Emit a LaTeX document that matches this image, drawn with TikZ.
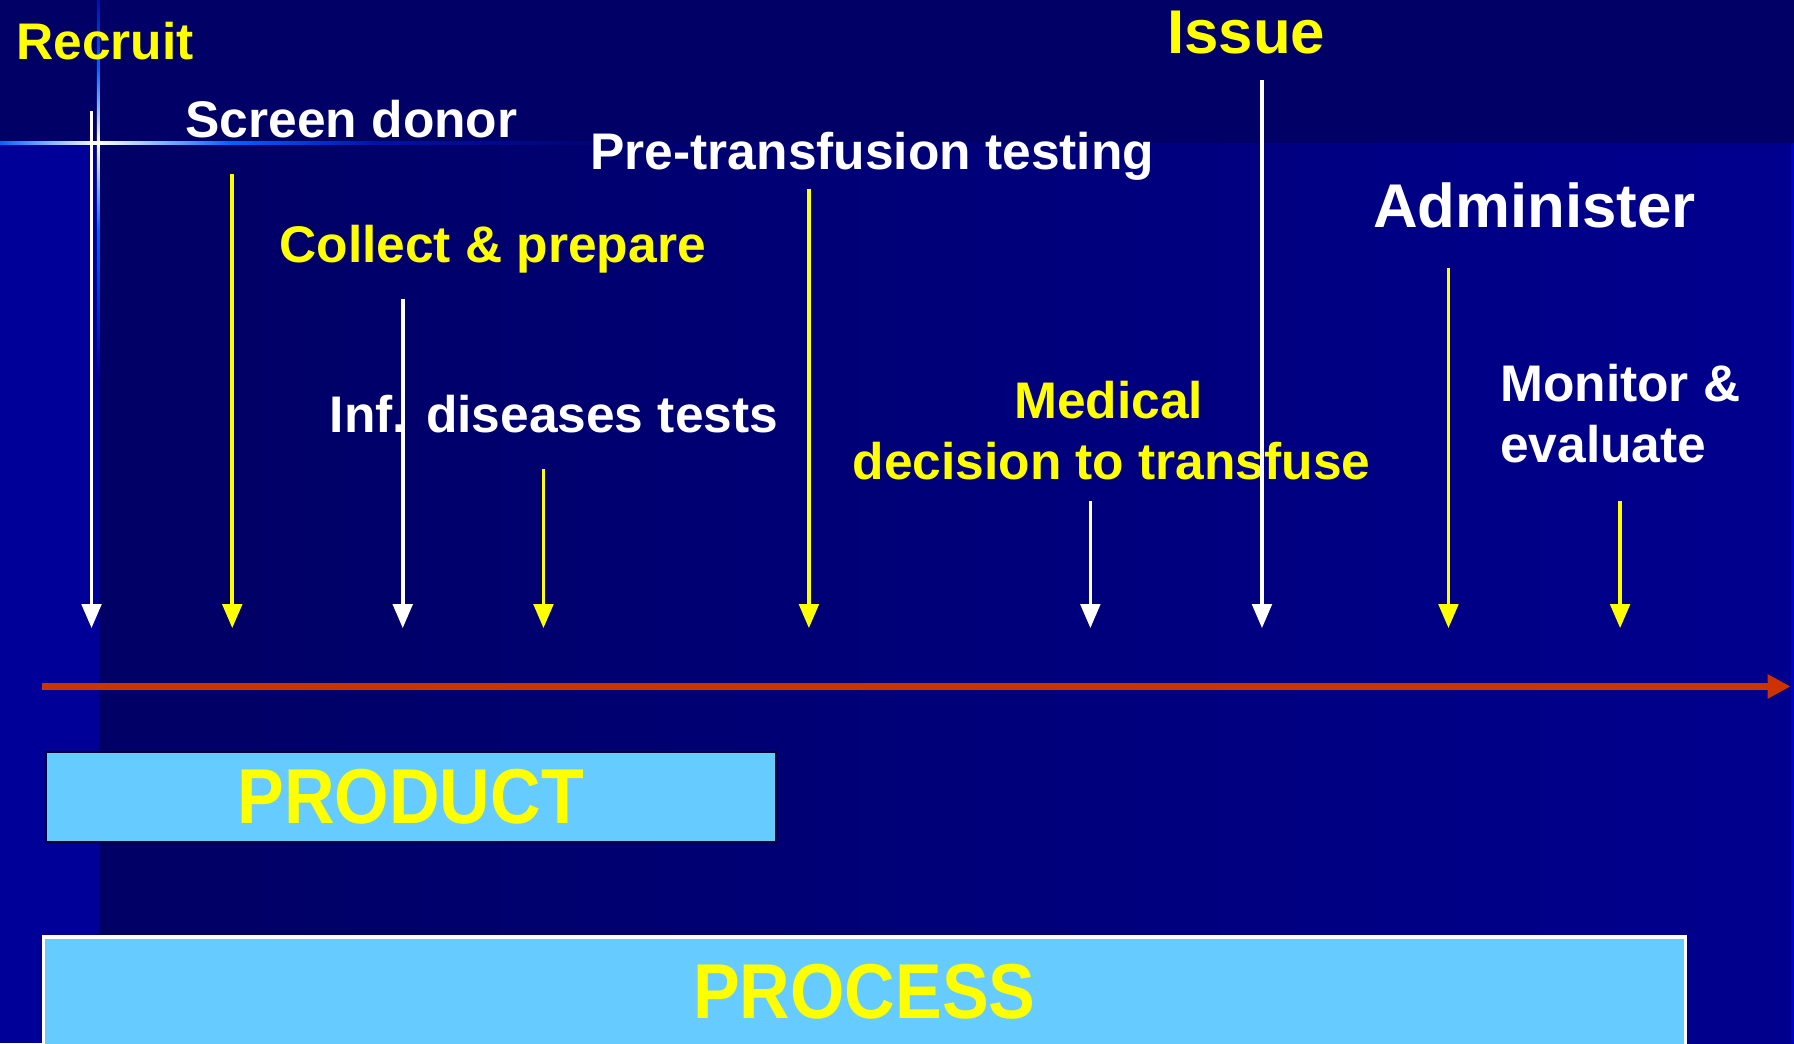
\documentclass[tikz,border=0pt]{standalone}
\usepackage{fontspec}
\usepackage{graphicx}
\setmainfont{Liberation Sans}
\usetikzlibrary{arrows.meta}
\definecolor{navy}{HTML}{000066}
\definecolor{midblue}{HTML}{000099}
\definecolor{edgeblue}{HTML}{0000CC}
\definecolor{lab}{HTML}{66CCFF}
\definecolor{tlred}{HTML}{CC3300}
\definecolor{ylw}{HTML}{FFFF00}
\definecolor{flare}{HTML}{0066FF}
\definecolor{flaredim}{HTML}{0010AA}
\definecolor{boxedge}{HTML}{000033}
\pgfdeclarehorizontalshading{bgshade}{100bp}{color(0bp)=(navy); color(28bp)=(navy); color(88bp)=(midblue); color(100bp)=(midblue)}
\begin{document}
\begin{tikzpicture}[x=1pt,y=-1pt,
  lbl/.style={font=\fontsize{45}{45}\selectfont\bfseries, inner sep=0pt, anchor=base west},
  biglbl/.style={lbl, font=\fontsize{54}{54}\selectfont\bfseries},
  wlbl/.style={lbl, text=white},
  ylbl/.style={lbl, text=ylw},
  tick/.style={line width=3.2pt, -{Triangle[width=17pt,length=21pt]}},
  wtick/.style={tick, draw=white},
  ytick/.style={tick, draw=ylw},
  bartext/.style={font=\fontsize{68}{68}\selectfont\bfseries, text=ylw, inner xsep=0pt, inner ysep=0pt, anchor=base, fill=lab}
]
\useasboundingbox (0,0) rectangle (1568,912);
% background
\fill[midblue] (0,0) rectangle (1568,912);
\shade[shading=bgshade] (87,125) rectangle (1568,912);
\fill[navy] (0,0) rectangle (1568,125);
\fill[edgeblue] (1565,125) rectangle (1568,912);
% flare
\shade[left color=flare, right color=white] (0,123.8) rectangle (86,126.2);
\shade[left color=white, right color=flare] (86,123.8) rectangle (200,126.2);
\shade[left color=flare, right color=flaredim] (200,123.8) rectangle (330,126.2);
\shade[left color=flaredim, right color=navy] (330,123.8) rectangle (560,126.2);
\shade[top color=flaredim, bottom color=flare] (84.6,0) rectangle (87.4,60);
\shade[top color=flare, bottom color=white] (84.6,60) rectangle (87.4,125);
\shade[top color=white, bottom color=flare] (84.6,125) rectangle (87.4,200);
\shade[top color=flare, bottom color=midblue] (84.6,200) rectangle (87.4,330);

% labels
\node[ylbl] (recruit) at (14,52) {Recruit};
\node[wlbl] (screen) at (162,120) {Screen donor};
\node[ylbl] (collect) at (244,229) {Collect \& prepare};
\node[wlbl] (pretest) at (516,148) {Pre-transfusion testing};
\node[biglbl, text=ylw] (issue) at (1020,47) {Issue};
\node[biglbl, text=white] (admin) at (1200,199) {Administer};
\node[wlbl] (infd) at (288,378) {Inf. diseases tests};
\node[ylbl, anchor=base] (medical) at (969,366) {Medical};
\node[ylbl] (decision) at (745,419) {decision to transfuse};
\node[wlbl] (monitor) at (1311,351) {Monitor \&};
\node[wlbl] (evaluate) at (1311,404) {evaluate};

% arrows
\coordinate (a1s) at (80,97);    \coordinate (a1e) at (80,549);
\coordinate (a2s) at (203,152);  \coordinate (a2e) at (203,549);
\coordinate (a3s) at (352,261);  \coordinate (a3e) at (352,549);
\coordinate (a4s) at (475,410);  \coordinate (a4e) at (475,549);
\coordinate (a5s) at (707,165);  \coordinate (a5e) at (707,549);
\coordinate (a6s) at (953,438);  \coordinate (a6e) at (953,549);
\coordinate (a7s) at (1103,70);  \coordinate (a7e) at (1103,549);
\coordinate (a8s) at (1266,234); \coordinate (a8e) at (1266,549);
\coordinate (a9s) at (1416,438); \coordinate (a9e) at (1416,549);
\draw[wtick] (a1s) -- (a1e);
\draw[ytick] (a2s) -- (a2e);
\draw[wtick] (a3s) -- (a3e);
\draw[ytick] (a4s) -- (a4e);
\draw[ytick] (a5s) -- (a5e);
\draw[wtick] (a6s) -- (a6e);
\draw[wtick] (a7s) -- (a7e);
\draw[ytick] (a8s) -- (a8e);
\draw[ytick] (a9s) -- (a9e);

% timeline
\coordinate (tl0) at (37,600);
\coordinate (tl1) at (1565,600);
\draw[tlred, line width=6.5pt, -{Triangle[width=20pt,length=20pt]}] (tl0) -- (tl1);

% boxes
\node[bartext, draw=boxedge, line width=2pt, minimum width=638pt, text height=63pt, text depth=16pt] (product) at (359,720) {\scalebox{0.9}[1]{PRODUCT}};
\node[bartext, minimum width=1435pt, text height=71pt, text depth=40pt] (process) at (755.5,890) {\scalebox{0.9}[1]{PROCESS}};
\draw[white, line width=3pt] (process.south west) -- (process.north west) -- (process.north east) -- (process.south east);
\end{tikzpicture}
\end{document}
